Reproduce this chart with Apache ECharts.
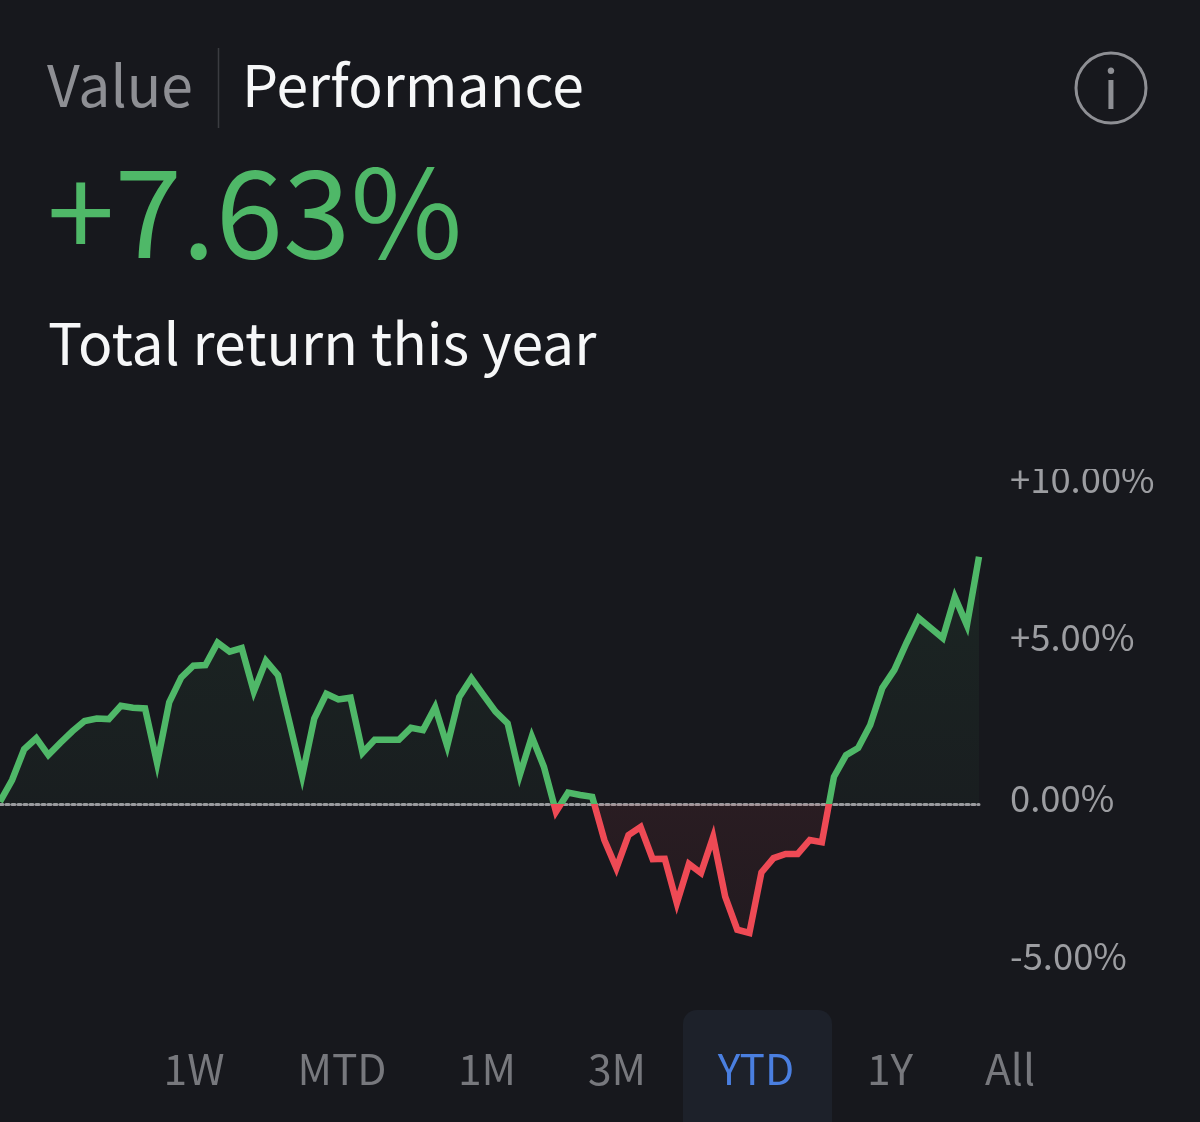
<!DOCTYPE html>
<html>
<head>
<meta charset="utf-8">
<style>html,body{margin:0;padding:0;background:#17181d}#c{width:1200px;height:1122px}</style>
<script src="https://cdn.jsdelivr.net/npm/echarts@6/dist/echarts.min.js"></script>
</head>
<body>
<div id="c"></div>
<script>
// Year-to-date return, in percent, one reading per sampling step
const returns = [
  0.07, 0.74, 1.69, 2.03, 1.51, 1.89, 2.25, 2.56, 2.64, 2.62,
  3.03, 2.97, 2.95, 1.26, 3.14, 3.91, 4.27, 4.29, 4.98, 4.70,
  4.81, 3.47, 4.42, 3.98, 2.44, 0.86, 2.64, 3.40, 3.23, 3.28,
  1.58, 1.98, 1.98, 1.98, 2.35, 2.28, 2.99, 1.79, 3.30, 3.88,
  3.36, 2.85, 2.49, 0.89, 2.08, 1.15, -0.24, 0.35, 0.28, 0.22,
  -1.11, -1.98, -0.96, -0.71, -1.70, -1.69, -3.06, -1.85, -2.13, -1.02,
  -2.86, -3.88, -3.98, -2.11, -1.67, -1.54, -1.54, -1.11, -1.18, 0.84,
  1.51, 1.73, 2.44, 3.58, 4.14, 4.97, 5.74, 5.43, 5.12, 6.39,
  5.52, 7.63
];
const steps = returns.map((_, i) => i);
const yTicks = [-5, 0, 5, 10];
const periods = ['1W', 'MTD', '1M', '3M', 'YTD', '1Y', 'All'];
const periodCentres = [194, 342, 487, 617, 756, 890, 1010];
const selectedPeriod = 'YTD';

const GREEN = '#4fb868', RED = '#ee4a55', GREY = '#8e8f94', WHITE = '#f6f7f8', BG = '#17181d';
const FONT = '"Noto Sans CJK JP","Noto Sans",sans-serif';

const tickLabel = v => (v > 0 ? '+' : '') + v.toFixed(2) + '%';
const tickNudge = { m5: 19, z: 11, p5: 10, p10: 2 };
const tickKey = { '-5': 'm5', '0': 'z', '5': 'p5', '10': 'p10' };
const rich = {};
Object.keys(tickNudge).forEach(k => {
  rich[k] = { color: '#9c9da1', fontFamily: FONT, fontSize: 36.4, fontWeight: 400,
              padding: [0, 0, tickNudge[k], 0] };
});

// Area fill splits at the zero line: the gradient box spans the data's extremes
const highest = Math.max(...returns), lowest = Math.min(...returns);
const zeroStop = highest / (highest - lowest);
const areaFill = new echarts.graphic.LinearGradient(0, 0, 0, 1, [
  { offset: 0, color: 'rgba(79,184,104,0.085)' },
  { offset: zeroStop, color: 'rgba(79,184,104,0.035)' },
  { offset: zeroStop, color: 'rgba(238,74,85,0.085)' },
  { offset: 1, color: 'rgba(238,74,85,0.05)' }
]);

const chart = echarts.init(document.getElementById('c'), null, { renderer: 'canvas' });

const text = (x, y, t, size, fill, weight, align) => ({
  type: 'text', x, y,
  style: { text: t, fill, fontSize: size, fontFamily: FONT, fontWeight: weight || 400,
           textAlign: align || 'left', textVerticalAlign: 'middle' }
});

chart.setOption({
  animation: false,
  backgroundColor: BG,
  grid: { left: 0, top: 480, width: 979, height: 486, containLabel: false },
  xAxis: {
    type: 'category', data: steps, boundaryGap: false,
    axisTick: { show: false }, axisLabel: { show: false }, splitLine: { show: false },
    axisLine: { onZero: true, lineStyle: { color: '#9a9a9e', width: 3, type: [3, 3] } }
  },
  yAxis: {
    type: 'value', position: 'right', min: yTicks[0], max: yTicks[yTicks.length - 1], interval: 5,
    axisLine: { show: false }, axisTick: { show: false }, splitLine: { show: false },
    axisLabel: {
      margin: 31, align: 'left', verticalAlign: 'middle',
      formatter: v => `{${tickKey[v]}|${tickLabel(v)}}`,
      rich
    }
  },
  visualMap: {
    show: false, type: 'piecewise', dimension: 1, seriesIndex: 0,
    pieces: [{ gte: -100, lt: 0, color: RED }, { gte: 0, lte: 100, color: GREEN }]
  },
  series: [{
    type: 'line', data: returns, symbol: 'none', smooth: false, z: 3,
    lineStyle: { width: 6.5, join: 'miter' },
    areaStyle: { color: areaFill, opacity: 1, origin: 0 }
  }],
  graphic: [
    { type: 'rect', z: -1, shape: { x: 683, y: 1010, width: 149, height: 140, r: 14 },
      style: { fill: '#1d212a' } },
    { type: 'rect', z: 50, shape: { x: 1000, y: 440, width: 170, height: 29 },
      style: { fill: BG } },
    { type: 'line', shape: { x1: 218.5, y1: 48, x2: 218.5, y2: 128 },
      style: { stroke: '#3b3c41', lineWidth: 1.5 } },
    { type: 'circle', shape: { cx: 1111, cy: 88, r: 35 },
      style: { fill: 'none', stroke: '#8e8f94', lineWidth: 3 } },
    text(1111, 88, 'i', 54, GREY, 400, 'center'),
    text(47, 85.5, 'Value', 57, GREY, 400),
    text(242, 85.5, 'Performance', 57, WHITE, 400),
    text(47, 212, '+7.63%', 121.5, GREEN, 400),
    text(48, 343, 'Total return this year', 57, WHITE, 400),
    ...periods.map((p, i) => text(periodCentres[i], 1069, p, 42.5,
        p === selectedPeriod ? '#4a7fe0' : '#77787d', 400, 'center'))
  ]
});
</script>
</body>
</html>
